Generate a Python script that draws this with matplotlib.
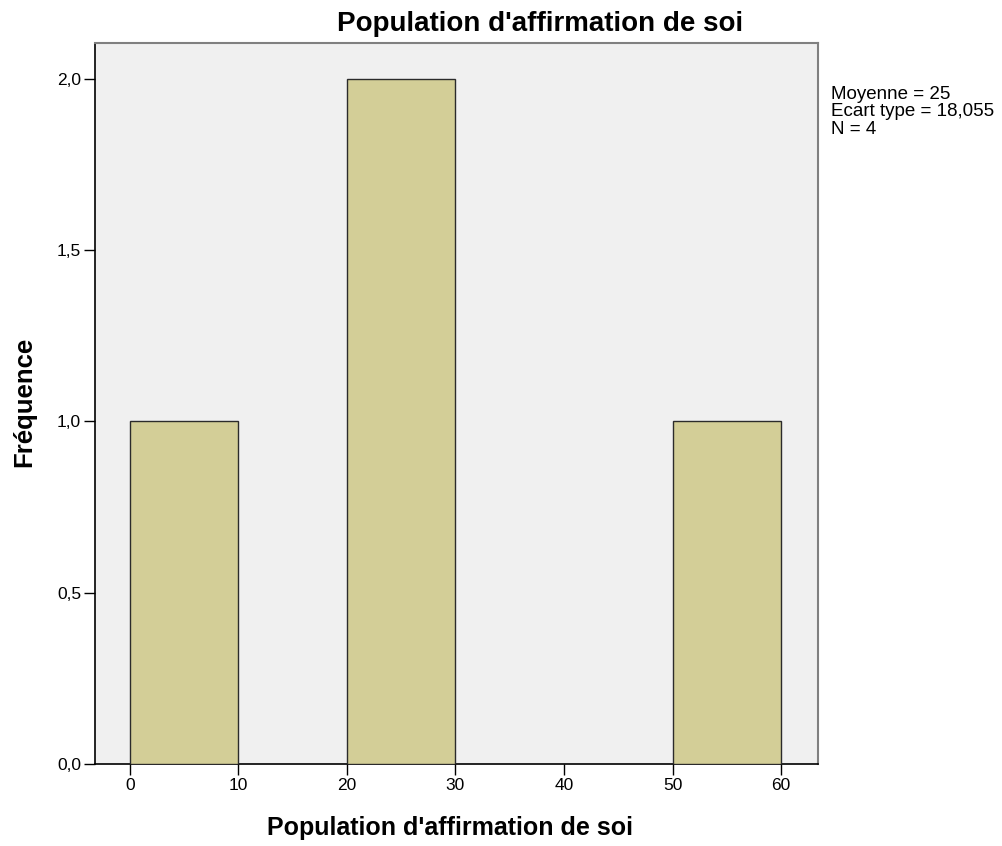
import matplotlib
matplotlib.use("Agg")
import matplotlib.pyplot as plt

plt.rcParams['font.family'] = ['Liberation Sans', 'DejaVu Sans']

# histogram bins and frequencies
bin_edges = [0, 10, 20, 30, 40, 50, 60]
counts = [1, 0, 2, 0, 0, 1]
x_ticks = [0, 10, 20, 30, 40, 50, 60]
y_ticks = [0.0, 0.5, 1.0, 1.5, 2.0]
y_tick_labels = ["0,0", "0,5", "1,0", "1,5", "2,0"]
stats_text = "Moyenne = 25\nEcart type = 18,055\nN = 4"

fig = plt.figure(figsize=(10.02, 8.46), dpi=100)
ax = fig.add_axes([0.0948, 0.0969, 0.7216, 0.8523])
ax.set_facecolor("#f0f0f0")

lefts = bin_edges[:-1]
widths = [b - a for a, b in zip(bin_edges[:-1], bin_edges[1:])]
ax.bar(lefts, counts, width=widths, align="edge", color="#d3ce97",
       edgecolor="#2b2b2b", linewidth=1.0, zorder=3)

ax.set_xlim(-3.2, 63.4)
ax.set_ylim(0, 2.105)
ax.set_xticks(x_ticks)
ax.set_xticklabels([str(t) for t in x_ticks])
ax.set_yticks(y_ticks)
ax.set_yticklabels(y_tick_labels)
ax.tick_params(direction="out", length=8, width=1, labelsize=12.5, color="black", pad=2)

for s in ["top", "right"]:
    ax.spines[s].set_color("#808080")
    ax.spines[s].set_linewidth(1.5)
for s in ["left", "bottom"]:
    ax.spines[s].set_color("black")
    ax.spines[s].set_linewidth(1.2)

fig.text(540 / 1002, 1 - 31 / 846, "Population d'affirmation de soi",
         fontsize=20, fontweight="bold", ha="center", va="baseline")
fig.text(450 / 1002, 1 - 835 / 846, "Population d'affirmation de soi",
         fontsize=18, fontweight="bold", ha="center", va="baseline")
fig.text(24 / 1002, 1 - 402 / 846, "Fréquence", fontsize=18.5, fontweight="bold",
         ha="center", va="center", rotation=90)

# baseline of the last line
fig.text(831 / 1002, 1 - 134 / 846, stats_text, fontsize=13.5, va="baseline", ha="left",
         linespacing=1.05)

fig.savefig("out.png", dpi=100)
